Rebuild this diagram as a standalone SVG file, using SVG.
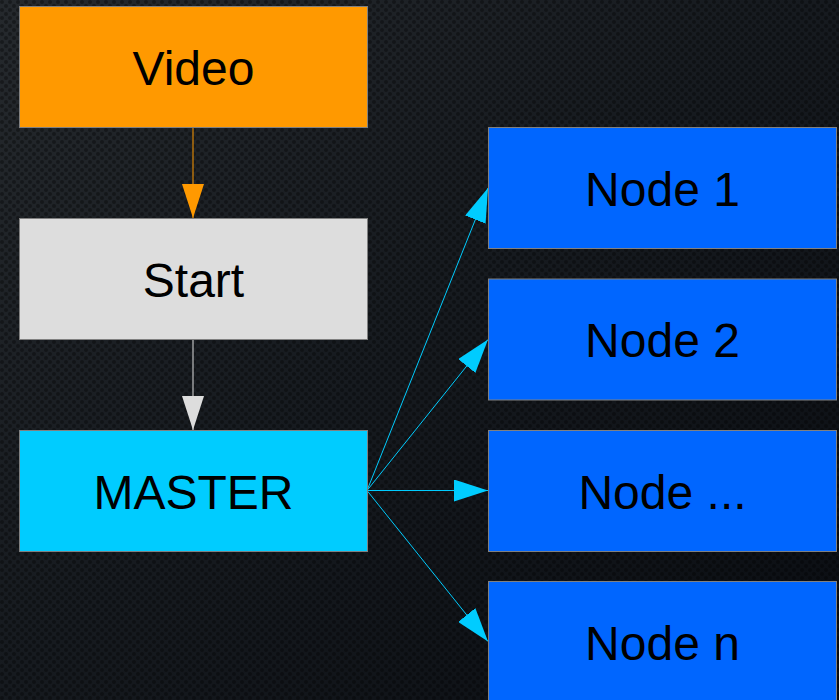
<svg xmlns="http://www.w3.org/2000/svg" width="839" height="700" viewBox="0 0 839 700">
  <defs>
    <linearGradient id="bg" x1="0" y1="0" x2="1" y2="1">
      <stop offset="0" stop-color="#25292d"/>
      <stop offset="0.45" stop-color="#171b20"/>
      <stop offset="1" stop-color="#0a0d12"/>
    </linearGradient>
    <pattern id="carbon" width="8" height="8" patternUnits="userSpaceOnUse">
      <circle cx="2" cy="2" r="2" fill="#000" fill-opacity="0.35"/>
      <circle cx="6" cy="6" r="2" fill="#000" fill-opacity="0.35"/>
    </pattern>
    <marker id="ah-orange" markerUnits="userSpaceOnUse" markerWidth="34" markerHeight="22" refX="34" refY="11" orient="auto">
      <path d="M0,0 L34,11 L0,22 Z" fill="#ff9900"/>
    </marker>
    <marker id="ah-gray" markerUnits="userSpaceOnUse" markerWidth="34" markerHeight="22" refX="34" refY="11" orient="auto">
      <path d="M0,0 L34,11 L0,22 Z" fill="#dddddd"/>
    </marker>
    <marker id="ah-cyan" markerUnits="userSpaceOnUse" markerWidth="34" markerHeight="22" refX="34" refY="11" orient="auto">
      <path d="M0,0 L34,11 L0,22 Z" fill="#00ccff"/>
    </marker>
  </defs>
  <style>
    .box { stroke: #808080; stroke-width: 1; }
    .label { font-family: "Liberation Sans", Arial, sans-serif; font-size: 48px; fill: #000; text-anchor: middle; }
    .edge { fill: none; stroke-width: 1; }
  </style>

  <!-- textured dark backdrop -->
  <rect width="839" height="700" fill="url(#bg)"/>
  <rect width="839" height="700" fill="url(#carbon)"/>

  <!-- connectors -->
  <g id="connectors">
    <line class="edge" x1="193" y1="127" x2="193" y2="218" stroke="#ff9900" marker-end="url(#ah-orange)"/>
    <line class="edge" x1="193" y1="339" x2="193" y2="430" stroke="#dddddd" marker-end="url(#ah-gray)"/>
    <line class="edge" x1="367" y1="490.5" x2="488" y2="188" stroke="#00ccff" marker-end="url(#ah-cyan)"/>
    <line class="edge" x1="367" y1="490.5" x2="488" y2="339.5" stroke="#00ccff" marker-end="url(#ah-cyan)"/>
    <line class="edge" x1="367" y1="490.5" x2="488" y2="490.5" stroke="#00ccff" marker-end="url(#ah-cyan)"/>
    <line class="edge" x1="367" y1="490.5" x2="488" y2="641.5" stroke="#00ccff" marker-end="url(#ah-cyan)"/>
  </g>

  <!-- nodes -->
  <g id="video">
    <rect class="box" x="19.5" y="6.5" width="348" height="121" fill="#ff9900"/>
    <text class="label" x="193.5" y="84.5">Video</text>
  </g>
  <g id="start">
    <rect class="box" x="19.5" y="218.5" width="348" height="121" fill="#dddddd"/>
    <text class="label" x="193.5" y="296.5">Start</text>
  </g>
  <g id="master">
    <rect class="box" x="19.5" y="430.5" width="348" height="121" fill="#00ccff"/>
    <text class="label" x="193.5" y="508.5">MASTER</text>
  </g>
  <g id="node1">
    <rect class="box" x="488.5" y="127.5" width="348" height="121" fill="#0066ff"/>
    <text class="label" x="662.5" y="205.5">Node 1</text>
  </g>
  <g id="node2">
    <rect class="box" x="488.5" y="279" width="348" height="121" fill="#0066ff"/>
    <text class="label" x="662.5" y="357">Node 2</text>
  </g>
  <g id="node-ellipsis">
    <rect class="box" x="488.5" y="430.5" width="348" height="121" fill="#0066ff"/>
    <text class="label" x="662.5" y="508.5">Node ...</text>
  </g>
  <g id="node-n">
    <rect class="box" x="488.5" y="581.5" width="348" height="121" fill="#0066ff"/>
    <text class="label" x="662.5" y="659.5">Node n</text>
  </g>
</svg>
